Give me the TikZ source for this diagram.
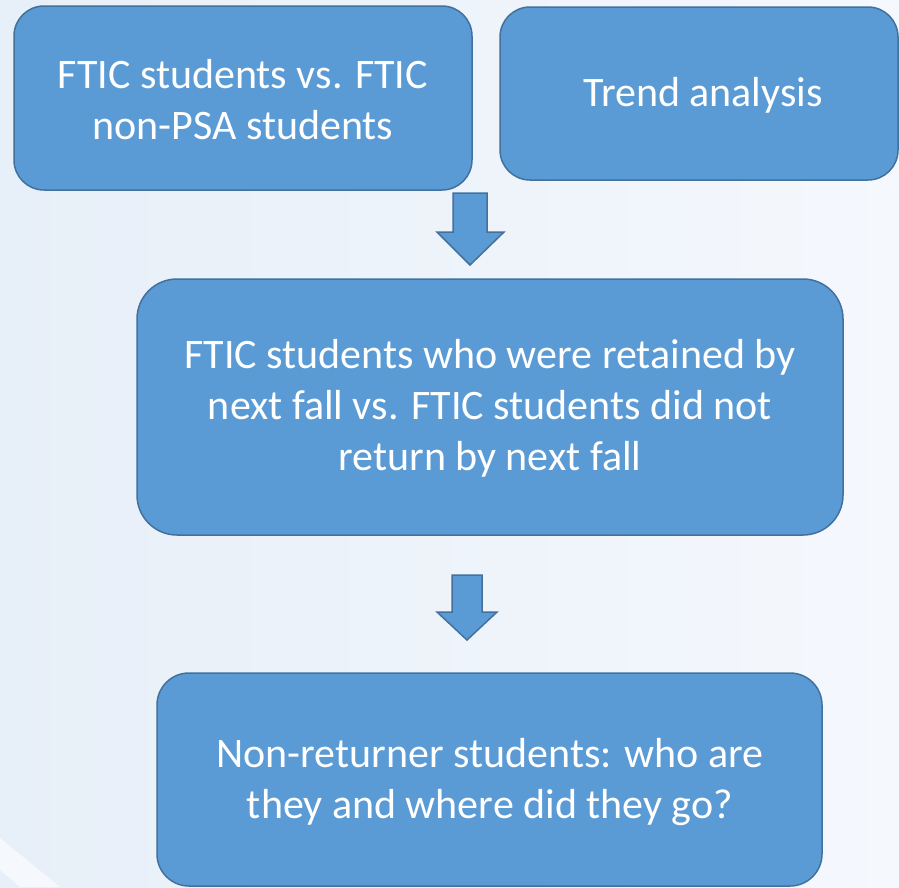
\documentclass[tikz,border=0pt]{standalone}
\usepackage{fontspec}
\setmainfont{Carlito}
\usetikzlibrary{shapes.arrows}
\definecolor{boxfill}{HTML}{5B9BD5}
\definecolor{boxline}{HTML}{41719C}
\definecolor{bgleft}{HTML}{E7EFF8}
\definecolor{bgright}{HTML}{F5F8FD}
\begin{document}
\begin{tikzpicture}[x=1pt,y=-1pt,
  blockbox/.style={draw=boxline, line width=1.5pt, fill=boxfill},
  blocktext/.style={text=white, align=center, font=\fontsize{42}{51}\selectfont},
  downarrow/.style={draw=boxline, line width=1.5pt, fill=boxfill}]
\useasboundingbox (0,0) rectangle (899,887);
\shade[left color=bgleft, right color=bgright] (0,0) rectangle (899,887);
\fill[white, opacity=0.6] (0,838) -- (60,887) -- (20,887) -- (0,870) -- cycle;
% boxes
\draw[blockbox, rounded corners=30pt] (14,6) rectangle (472,190);
\node[blocktext] (b1) at (243,100) {FTIC students vs. FTIC\\non-PSA students};
\draw[blockbox, rounded corners=30pt] (500,7) rectangle (898,180);
\node[blocktext] (b2) at (703,95) {Trend analysis};
\draw[blockbox, rounded corners=40pt] (137,279) rectangle (843,535);
\node[blocktext] (b3) at (490,408) {FTIC students who were retained by\\next fall vs. FTIC students did not\\return by next fall};
\draw[blockbox, rounded corners=32pt] (157,673) rectangle (822,886);
\node[blocktext] (b4) at (490,782) {Non-returner students: who are\\they and where did they go?};
% arrows
\draw[downarrow] (453,193) -- (487,193) -- (487,232) -- (504,232) -- (470,265) -- (437,232) -- (453,232) -- cycle;
\draw[downarrow] (452,575) -- (482,575) -- (482,612) -- (497,612) -- (467,640) -- (437,612) -- (452,612) -- cycle;
\end{tikzpicture}
\end{document}
